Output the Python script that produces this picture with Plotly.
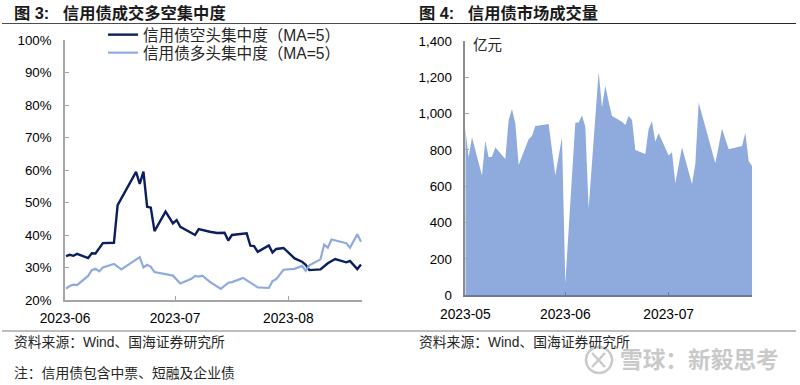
import plotly.graph_objects as go

W, H = 800, 385
FONT = "Liberation Sans, Noto Sans CJK SC, sans-serif"

short_dates = ["2023-06-01","2023-06-02","2023-06-03","2023-06-04","2023-06-07","2023-06-08","2023-06-09","2023-06-11","2023-06-14","2023-06-15","2023-06-20","2023-06-21","2023-06-22","2023-06-23","2023-06-24","2023-06-25","2023-06-28","2023-06-30","2023-07-01","2023-07-02","2023-07-06","2023-07-07","2023-07-10","2023-07-12","2023-07-14","2023-07-15","2023-07-16","2023-07-20","2023-07-21","2023-07-22","2023-07-23","2023-07-26","2023-07-27","2023-07-28","2023-07-30","2023-08-02","2023-08-04","2023-08-05","2023-08-06","2023-08-09","2023-08-11","2023-08-13","2023-08-16","2023-08-17","2023-08-19","2023-08-20"]
short_values = [33.5,33.9,33.6,34.2,32.9,34.4,34.3,37.5,37.6,49.2,59.4,55.7,59.5,48.7,48.4,41.2,47.2,43.6,44.6,42.5,40.0,41.8,41.0,40.6,40.7,38.3,40.0,40.5,36.7,36.6,34.8,36.8,34.6,35.7,36.0,32.8,31.8,30.8,29.2,29.4,31.3,32.6,31.6,32.0,29.5,30.9]

long_dates = ["2023-06-01","2023-06-02","2023-06-03","2023-06-04","2023-06-07","2023-06-08","2023-06-09","2023-06-10","2023-06-11","2023-06-14","2023-06-16","2023-06-21","2023-06-22","2023-06-23","2023-06-24","2023-06-25","2023-06-30","2023-07-02","2023-07-05","2023-07-06","2023-07-07","2023-07-08","2023-07-10","2023-07-13","2023-07-15","2023-07-16","2023-07-19","2023-07-23","2023-07-26","2023-07-27","2023-07-28","2023-07-30","2023-08-02","2023-08-04","2023-08-05","2023-08-06","2023-08-09","2023-08-10","2023-08-11","2023-08-12","2023-08-16","2023-08-17","2023-08-19","2023-08-20"]
long_values = [23.5,24.3,24.7,24.6,27.4,29.2,29.6,28.8,30.0,31.1,29.4,33.2,30.0,30.8,30.2,28.6,27.5,25.1,26.5,27.4,27.2,27.5,25.6,23.4,25.3,25.5,26.8,23.9,23.7,25.8,26.4,29.3,29.6,30.5,29.0,30.7,32.5,37.0,36.1,38.6,37.5,36.1,40.2,37.9]

volume_dates = ["2023-05-02","2023-05-03","2023-05-04","2023-05-07","2023-05-08","2023-05-09","2023-05-10","2023-05-11","2023-05-14","2023-05-15","2023-05-16","2023-05-17","2023-05-18","2023-05-21","2023-05-22","2023-05-23","2023-05-27","2023-05-29","2023-05-31","2023-06-01","2023-06-04","2023-06-05","2023-06-06","2023-06-07","2023-06-08","2023-06-11","2023-06-12","2023-06-13","2023-06-14","2023-06-15","2023-06-18","2023-06-19","2023-06-20","2023-06-21","2023-06-22","2023-06-25","2023-06-26","2023-06-27","2023-06-28","2023-06-29","2023-07-02","2023-07-03","2023-07-04","2023-07-06","2023-07-09","2023-07-10","2023-07-11","2023-07-16","2023-07-18","2023-07-20","2023-07-24","2023-07-25","2023-07-26","2023-07-27"]
volume_values = [919,760,870,659,851,760,763,815,750,965,1026,947,717,859,877,932,943,659,870,66,950,952,991,928,479,1231,1035,1154,1066,987,956,938,987,965,800,778,916,958,846,892,769,787,617,815,613,723,1062,727,917,804,822,895,740,712]

left_tick_vals = ["2023-05-31 17:30","2023-06-30 13:30","2023-07-31 07:00"]
left_tick_text = ["2023-06","2023-07","2023-08"]
right_tick_vals = ["2023-05-02","2023-06-01","2023-07-02"]
right_tick_text = ["2023-05","2023-06","2023-07"]
left_y_ticks = [20,30,40,50,60,70,80,90,100]
right_y_ticks = [0,200,400,600,800,1000,1200,1400]

NAVY = "#0b1f5e"
LIGHT = "#8faadc"
AXIS = "#a6a6a6"
COLON = "\uff1a"
LP, RP = "\uff08", "\uff09"
NB = "\u00a0"

def px(x): return x / W
def py(y): return 1 - y / H

fig = go.Figure()
fig.add_trace(go.Scatter(x=short_dates, y=short_values, mode="lines", name=f"信用债空头集中度{LP}MA=5{RP}",
                         line=dict(color=NAVY, width=2.4), xaxis="x", yaxis="y", legend="legend"))
fig.add_trace(go.Scatter(x=long_dates, y=long_values, mode="lines", name=f"信用债多头集中度{LP}MA=5{RP}",
                         line=dict(color=LIGHT, width=2.2), xaxis="x", yaxis="y", legend="legend2"))
fig.add_trace(go.Scatter(x=volume_dates, y=volume_values, mode="lines", showlegend=False,
                         line=dict(color=LIGHT, width=0), fill="tozeroy", fillcolor=LIGHT,
                         xaxis="x2", yaxis="y2"))

xbase = dict(type="date", showgrid=False, zeroline=False, showline=True, linecolor=AXIS, linewidth=1.5,
             ticks="inside", ticklen=4, tickcolor=AXIS, tickwidth=1, tickmode="array", automargin=False,
             tickfont=dict(family=FONT, size=13.8, color="#000000"), ticklabelstandoff=5)
ybase = dict(showgrid=False, zeroline=False, showline=True, linecolor=AXIS, linewidth=1.5,
             ticks="inside", ticklen=4, tickcolor=AXIS, tickwidth=1, tickmode="array", automargin=False,
             tickfont=dict(family=FONT, size=13.3, color="#000000"), ticklabelstandoff=9)

def note(x, y, text, size=13.8, color="#262626", xanchor="left", **font):
    return dict(x=px(x), y=py(y), xref="paper", yref="paper", text=text, showarrow=False,
                xanchor=xanchor, yanchor="middle", align="left",
                font=dict(family=FONT, size=size, color=color, **font))

def rule(x0, x1, y, color, width=1.2):
    return dict(type="line", xref="paper", yref="paper", x0=px(x0), x1=px(x1), y0=py(y), y1=py(y),
                line=dict(color=color, width=width))

WM = "#c9c9c9"
def wm_line(x0, y0, x1, y1):
    return dict(type="line", xref="paper", yref="paper", x0=px(x0), x1=px(x1), y0=py(y0), y1=py(y1),
                line=dict(color=WM, width=2.5))

shapes = [
    rule(2, 400, 23.5, "#4d4d4d"), rule(400, 796, 23.5, "#262626"),
    rule(2, 400, 331, "#7f7f7f"), rule(400, 796, 331, "#7f7f7f"),
    dict(type="circle", xref="paper", yref="paper", x0=px(586), x1=px(612), y0=py(347), y1=py(373),
         line=dict(color=WM, width=2.5)),
    wm_line(592, 353, 605, 367), wm_line(605, 353, 592, 367),
]

annotations = [
    note(12, 13, f"<b>图 3:{NB}{NB}{NB}信用债成交多空集中度</b>", size=16.3, color="#1a1a1a"),
    note(417, 13, f"<b>图 4:{NB}{NB}{NB}信用债市场成交量</b>", size=16.3, color="#1a1a1a"),
    note(471, 45, "亿元", size=14.5, color="#262626"),
    note(12, 342, f"资料来源{COLON}Wind、国海证券研究所"),
    note(417, 342, f"资料来源{COLON}Wind、国海证券研究所"),
    note(12, 373, f"注{COLON}信用债包含中票、短融及企业债"),
    note(618, 360, f"<b>雪球{COLON}新毅思考</b>", size=22.7, color=WM),
]

legend_style = dict(xanchor="left", yanchor="middle", bgcolor="rgba(0,0,0,0)",
                    font=dict(family=FONT, size=15.6, color="#262626"), itemwidth=30)

fig.update_layout(
    width=W, height=H, margin=dict(l=0, r=0, t=0, b=0), autosize=False,
    paper_bgcolor="#ffffff", plot_bgcolor="#ffffff", font=dict(family=FONT),
    xaxis=dict(xbase, domain=[px(65), px(362)], range=["2023-05-31 17:30", "2023-08-20 06:30"],
               tickvals=left_tick_vals, ticktext=left_tick_text, anchor="y"),
    yaxis=dict(ybase, domain=[py(300), py(40)], range=[20, 100], tickvals=left_y_ticks,
               ticktext=[f"{v}%" for v in left_y_ticks], anchor="x"),
    xaxis2=dict(xbase, domain=[px(465.3), px(752)], range=["2023-05-02", "2023-07-27"],
                tickvals=right_tick_vals, ticktext=right_tick_text, anchor="y2",
                linecolor="#6f7b94", tickcolor="#6f7b94"),
    yaxis2=dict(ybase, domain=[py(295.3), py(41)], range=[0, 1400], tickvals=right_y_ticks,
                ticktext=[f"{v:,}" for v in right_y_ticks], anchor="x2", linecolor="#8c8c8c"),
    legend=dict(legend_style, x=px(103), y=py(35)),
    legend2=dict(legend_style, x=px(103), y=py(53)),
    shapes=shapes, annotations=annotations,
)

fig.write_html("out.html", config=dict(displayModeBar=False), post_script="document.body.style.margin='0';")
